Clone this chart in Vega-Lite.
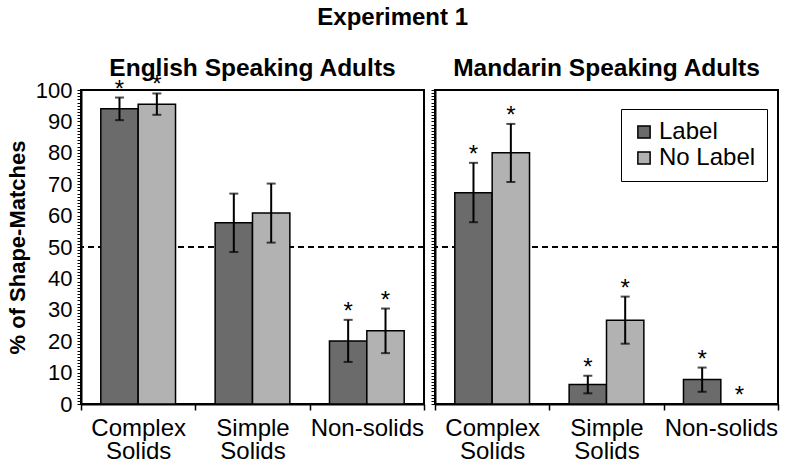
{
  "$schema": "https://vega.github.io/schema/vega-lite/v6.json",
  "padding": {"left": 5, "top": 5, "right": 5, "bottom": 0},
  "background": "white",
  "title": {"text": "Experiment 1", "fontSize": 24, "fontWeight": "bold", "anchor": "middle", "offset": 25, "color": "black"},
  "data": {"values": [
    {"panel": "English Speaking Adults", "cat": "Complex Solids", "cond": "Label", "value": 94.0, "lo": 90.4, "hi": 97.6, "star": true},
    {"panel": "English Speaking Adults", "cat": "Complex Solids", "cond": "No Label", "value": 95.5, "lo": 92.1, "hi": 98.9, "star": true},
    {"panel": "English Speaking Adults", "cat": "Simple Solids", "cond": "Label", "value": 57.7, "lo": 48.4, "hi": 67.0, "star": false},
    {"panel": "English Speaking Adults", "cat": "Simple Solids", "cond": "No Label", "value": 60.8, "lo": 51.4, "hi": 70.2, "star": false},
    {"panel": "English Speaking Adults", "cat": "Non-solids", "cond": "Label", "value": 20.1, "lo": 13.4, "hi": 26.8, "star": true},
    {"panel": "English Speaking Adults", "cat": "Non-solids", "cond": "No Label", "value": 23.3, "lo": 16.2, "hi": 30.4, "star": true},
    {"panel": "Mandarin Speaking Adults", "cat": "Complex Solids", "cond": "Label", "value": 67.3, "lo": 57.9, "hi": 76.8, "star": true},
    {"panel": "Mandarin Speaking Adults", "cat": "Complex Solids", "cond": "No Label", "value": 80.0, "lo": 70.7, "hi": 89.2, "star": true},
    {"panel": "Mandarin Speaking Adults", "cat": "Simple Solids", "cond": "Label", "value": 6.2, "lo": 3.4, "hi": 9.0, "star": true},
    {"panel": "Mandarin Speaking Adults", "cat": "Simple Solids", "cond": "No Label", "value": 26.7, "lo": 19.2, "hi": 34.2, "star": true},
    {"panel": "Mandarin Speaking Adults", "cat": "Non-solids", "cond": "Label", "value": 7.8, "lo": 3.9, "hi": 11.6, "star": true},
    {"panel": "Mandarin Speaking Adults", "cat": "Non-solids", "cond": "No Label", "value": 0, "lo": 0, "hi": 0, "star": true}
  ]},
  "spacing": 3,
  "resolve": {"scale": {"x": "independent", "y": "independent", "xOffset": "independent", "color": "independent"}},
  "hconcat": [
    {
      "width": 343, "height": 314,
      "title": {"text": "English Speaking Adults", "fontSize": 24.5, "fontWeight": "bold", "offset": -8, "color": "black"},
      "transform": [{"filter": "datum.panel == 'English Speaking Adults'"}],
      "layer": [
        {
          "data": {"values": [{"chance": 50}]},
          "mark": {"type": "rule", "strokeDash": [6, 4], "strokeWidth": 2, "color": "black"},
          "encoding": {"y": {"field": "chance", "type": "quantitative", "scale": {"domain": [0, 100], "nice": false},
                             "axis": {"title": "% of Shape-Matches", "tickCount": 100, "labelExpr": "datum.value % 10 === 0 ? datum.label : ''"}}}
        },
        {
          "mark": {"type": "bar", "stroke": "black", "strokeWidth": 1.5},
          "encoding": {
            "x": {"field": "cat", "type": "nominal", "sort": ["Complex Solids", "Simple Solids", "Non-solids"], "scale": {"paddingInner": 0, "paddingOuter": 0}, "title": null},
            "xOffset": {"field": "cond", "type": "nominal", "sort": ["Label", "No Label"], "scale": {"paddingInner": 0, "paddingOuter": 0.53}},
            "y": {"field": "value", "type": "quantitative", "scale": {"domain": [0, 100], "nice": false},
                  "axis": {"title": "% of Shape-Matches", "tickCount": 100, "labelExpr": "datum.value % 10 === 0 ? datum.label : ''"}},
            "color": {"field": "cond", "type": "nominal", "scale": {"domain": ["Label", "No Label"], "range": ["#6b6b6b", "#b2b2b2"]}, "legend": null}
          }
        },
        {
          "transform": [{"filter": "datum.hi > datum.lo"}],
          "mark": {"type": "rule", "strokeWidth": 2, "color": "black"},
          "encoding": {
            "x": {"field": "cat", "type": "nominal", "sort": ["Complex Solids", "Simple Solids", "Non-solids"], "title": null},
            "xOffset": {"field": "cond", "type": "nominal", "sort": ["Label", "No Label"]},
            "y": {"field": "lo", "type": "quantitative", "scale": {"domain": [0, 100], "nice": false},
                  "axis": {"title": "% of Shape-Matches", "tickCount": 100, "labelExpr": "datum.value % 10 === 0 ? datum.label : ''"}},
            "y2": {"field": "hi"}
          }
        },
        {
          "transform": [{"filter": "datum.hi > datum.lo"}],
          "mark": {"type": "tick", "size": 9, "thickness": 2, "color": "black"},
          "encoding": {
            "x": {"field": "cat", "type": "nominal", "sort": ["Complex Solids", "Simple Solids", "Non-solids"], "title": null},
            "xOffset": {"field": "cond", "type": "nominal", "sort": ["Label", "No Label"]},
            "y": {"field": "lo", "type": "quantitative", "scale": {"domain": [0, 100], "nice": false},
                  "axis": {"title": "% of Shape-Matches", "tickCount": 100, "labelExpr": "datum.value % 10 === 0 ? datum.label : ''"}}
          }
        },
        {
          "transform": [{"filter": "datum.hi > datum.lo"}],
          "mark": {"type": "tick", "size": 9, "thickness": 2, "color": "black"},
          "encoding": {
            "x": {"field": "cat", "type": "nominal", "sort": ["Complex Solids", "Simple Solids", "Non-solids"], "title": null},
            "xOffset": {"field": "cond", "type": "nominal", "sort": ["Label", "No Label"]},
            "y": {"field": "hi", "type": "quantitative", "scale": {"domain": [0, 100], "nice": false},
                  "axis": {"title": "% of Shape-Matches", "tickCount": 100, "labelExpr": "datum.value % 10 === 0 ? datum.label : ''"}}
          }
        },
        {
          "transform": [{"filter": "datum.star"}],
          "mark": {"type": "text", "text": "*", "fontSize": 24, "baseline": "alphabetic", "dy": -1, "color": "black"},
          "encoding": {
            "x": {"field": "cat", "type": "nominal", "sort": ["Complex Solids", "Simple Solids", "Non-solids"], "title": null},
            "xOffset": {"field": "cond", "type": "nominal", "sort": ["Label", "No Label"]},
            "y": {"field": "hi", "type": "quantitative", "scale": {"domain": [0, 100], "nice": false},
                  "axis": {"title": "% of Shape-Matches", "tickCount": 100, "labelExpr": "datum.value % 10 === 0 ? datum.label : ''"}}
          }
        }
      ]
    },
    {
      "width": 343, "height": 314,
      "title": {"text": "Mandarin Speaking Adults", "fontSize": 24.5, "fontWeight": "bold", "offset": 8, "color": "black"},
      "transform": [{"filter": "datum.panel == 'Mandarin Speaking Adults'"}],
      "layer": [
        {
          "data": {"values": [{"chance": 50}]},
          "mark": {"type": "rule", "strokeDash": [6, 4], "strokeWidth": 2, "color": "black"},
          "encoding": {"y": {"field": "chance", "type": "quantitative", "scale": {"domain": [0, 100], "nice": false},
                             "axis": {"title": null, "labels": false, "tickCount": 100}}}
        },
        {
          "mark": {"type": "bar", "stroke": "black", "strokeWidth": 1.5},
          "encoding": {
            "x": {"field": "cat", "type": "nominal", "sort": ["Complex Solids", "Simple Solids", "Non-solids"], "scale": {"paddingInner": 0, "paddingOuter": 0}, "title": null},
            "xOffset": {"field": "cond", "type": "nominal", "sort": ["Label", "No Label"], "scale": {"paddingInner": 0, "paddingOuter": 0.53}},
            "y": {"field": "value", "type": "quantitative", "scale": {"domain": [0, 100], "nice": false},
                  "axis": {"title": null, "labels": false, "tickCount": 100}},
            "color": {"field": "cond", "type": "nominal", "scale": {"domain": ["Label", "No Label"], "range": ["#6b6b6b", "#b2b2b2"]},
                      "legend": {"title": null, "orient": "none", "legendX": 186, "legendY": 19, "labelFontSize": 24, "labelColor": "black", "labelOffset": 3,
                                 "symbolType": "square", "symbolSize": 150, "symbolStrokeColor": "black", "symbolStrokeWidth": 1.5, "symbolOpacity": 1,
                                 "strokeColor": "black", "fillColor": "white", "padding": 11, "rowPadding": 2}}
          }
        },
        {
          "transform": [{"filter": "datum.hi > datum.lo"}],
          "mark": {"type": "rule", "strokeWidth": 2, "color": "black"},
          "encoding": {
            "x": {"field": "cat", "type": "nominal", "sort": ["Complex Solids", "Simple Solids", "Non-solids"], "title": null},
            "xOffset": {"field": "cond", "type": "nominal", "sort": ["Label", "No Label"]},
            "y": {"field": "lo", "type": "quantitative", "scale": {"domain": [0, 100], "nice": false},
                  "axis": {"title": null, "labels": false, "tickCount": 100}},
            "y2": {"field": "hi"}
          }
        },
        {
          "transform": [{"filter": "datum.hi > datum.lo"}],
          "mark": {"type": "tick", "size": 9, "thickness": 2, "color": "black"},
          "encoding": {
            "x": {"field": "cat", "type": "nominal", "sort": ["Complex Solids", "Simple Solids", "Non-solids"], "title": null},
            "xOffset": {"field": "cond", "type": "nominal", "sort": ["Label", "No Label"]},
            "y": {"field": "lo", "type": "quantitative", "scale": {"domain": [0, 100], "nice": false},
                  "axis": {"title": null, "labels": false, "tickCount": 100}}
          }
        },
        {
          "transform": [{"filter": "datum.hi > datum.lo"}],
          "mark": {"type": "tick", "size": 9, "thickness": 2, "color": "black"},
          "encoding": {
            "x": {"field": "cat", "type": "nominal", "sort": ["Complex Solids", "Simple Solids", "Non-solids"], "title": null},
            "xOffset": {"field": "cond", "type": "nominal", "sort": ["Label", "No Label"]},
            "y": {"field": "hi", "type": "quantitative", "scale": {"domain": [0, 100], "nice": false},
                  "axis": {"title": null, "labels": false, "tickCount": 100}}
          }
        },
        {
          "transform": [{"filter": "datum.star"}],
          "mark": {"type": "text", "text": "*", "fontSize": 24, "baseline": "alphabetic", "dy": -1, "color": "black"},
          "encoding": {
            "x": {"field": "cat", "type": "nominal", "sort": ["Complex Solids", "Simple Solids", "Non-solids"], "title": null},
            "xOffset": {"field": "cond", "type": "nominal", "sort": ["Label", "No Label"]},
            "y": {"field": "hi", "type": "quantitative", "scale": {"domain": [0, 100], "nice": false},
                  "axis": {"title": null, "labels": false, "tickCount": 100}}
          }
        }
      ]
    }
  ],
  "config": {
    "font": "Liberation Sans",
    "view": {"stroke": "black", "strokeWidth": 2},
    "title": {"font": "Liberation Sans"},
    "axis": {"labelFont": "Liberation Sans", "titleFont": "Liberation Sans", "domainColor": "black", "tickColor": "black", "labelColor": "black", "titleColor": "black", "domainWidth": 2, "grid": false},
    "axisX": {"tickBand": "extent", "labelExpr": "split(datum.label, ' ')", "labelAngle": 0, "labelFontSize": 24, "labelLineHeight": 23, "tickSize": 6, "tickWidth": 1.5, "labelPadding": 6},
    "axisY": {"labelOverlap": false, "labelFlush": false, "labelFontSize": 22, "labelPadding": 5, "tickSize": 4, "tickWidth": 1, "titleFontSize": 22, "titleFontWeight": "bold", "titlePadding": 6},
    "legend": {"labelFont": "Liberation Sans"}
  }
}
